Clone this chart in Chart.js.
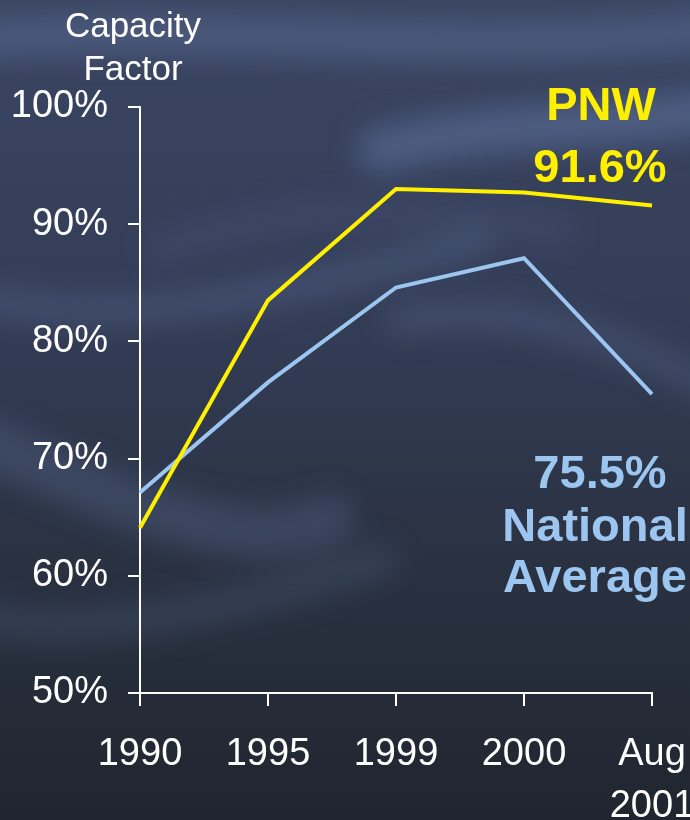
<!DOCTYPE html>
<html>
<head>
<meta charset="utf-8">
<script src="https://cdn.jsdelivr.net/npm/chart.js@4/dist/chart.umd.min.js"></script>
<style>
  html, body { margin: 0; padding: 0; background: #2c3446; }
  canvas { display: block; }
</style>
</head>
<body>
<canvas id="cf" width="690" height="820"></canvas>
<script>
// data
const years = ["1990", "1995", "1999", "2000", ["Aug", "2001"]];
const pnw = [64.1, 83.5, 93.0, 92.7, 91.6];
const national = [67.1, 76.5, 84.6, 87.1, 75.5];
const yTicks = [50, 60, 70, 80, 90, 100];

const FONT = '"Liberation Sans", Arial, sans-serif';
const YELLOW = '#fff000';
const LIGHTBLUE = '#9cc6f0';

// dark cloudy slide background
const backdrop = {
  id: 'backdrop',
  beforeDraw(chart) {
    const { ctx, width, height } = chart;
    ctx.save();
    const g = ctx.createLinearGradient(0, 0, 0, height);
    g.addColorStop(0, '#3a4562');
    g.addColorStop(0.35, '#343e58');
    g.addColorStop(0.65, '#2b3344');
    g.addColorStop(1, '#20262f');
    ctx.fillStyle = g;
    ctx.fillRect(0, 0, width, height);

    // soft wisps
    ctx.filter = 'blur(14px)';
    ctx.lineCap = 'round';
    const wisps = [
      { c: 'rgba(110,130,175,0.35)', w: 40, p: [[-20, 40], [200, 20], [450, 60], [720, 30]] },
      { c: 'rgba(110,135,185,0.40)', w: 45, p: [[380, 150], [500, 120], [600, 130], [720, 110]] },
      { c: 'rgba(100,120,165,0.30)', w: 30, p: [[-20, 300], [150, 330], [300, 290], [480, 240]] },
      { c: 'rgba(95,115,160,0.30)', w: 50, p: [[-20, 440], [120, 500], [240, 560], [330, 520]] },
      { c: 'rgba(100,120,165,0.28)', w: 30, p: [[400, 320], [520, 300], [620, 340], [720, 390]] },
      { c: 'rgba(90,110,150,0.25)', w: 35, p: [[-20, 620], [120, 640], [260, 600], [380, 560]] },
      { c: 'rgba(85,100,140,0.22)', w: 30, p: [[160, 250], [300, 200], [420, 210], [560, 230]] }
    ];
    wisps.forEach(s => {
      ctx.strokeStyle = s.c;
      ctx.lineWidth = s.w;
      ctx.beginPath();
      ctx.moveTo(s.p[0][0], s.p[0][1]);
      ctx.bezierCurveTo(s.p[1][0], s.p[1][1], s.p[2][0], s.p[2][1], s.p[3][0], s.p[3][1]);
      ctx.stroke();
    });
    ctx.restore();
  }
};

// axis caption and end-of-line callouts
const callouts = {
  id: 'callouts',
  afterDraw(chart) {
    const { ctx } = chart;
    ctx.save();
    ctx.textAlign = 'center';
    ctx.textBaseline = 'alphabetic';

    ctx.fillStyle = '#ffffff';
    ctx.font = '35px ' + FONT;
    ctx.fillText('Capacity', 133, 37);
    ctx.fillText('Factor', 133, 80);

    ctx.font = 'bold 47px ' + FONT;
    ctx.fillStyle = YELLOW;
    ctx.fillText('PNW', 601, 120);
    ctx.fillText('91.6%', 600, 182);

    ctx.fillStyle = LIGHTBLUE;
    ctx.fillText('75.5%', 600, 488);
    ctx.fillText('National', 595, 541);
    ctx.fillText('Average', 595, 592);
    ctx.restore();
  }
};

new Chart(document.getElementById('cf'), {
  type: 'line',
  data: {
    labels: years,
    datasets: [
      { label: 'PNW', data: pnw, borderColor: YELLOW, borderWidth: 4, pointRadius: 0, tension: 0 },
      { label: 'National Average', data: national, borderColor: LIGHTBLUE, borderWidth: 4, pointRadius: 0, tension: 0 }
    ]
  },
  options: {
    responsive: false,
    animation: false,
    layout: { padding: { top: 107, right: 38, left: 0, bottom: 0 } },
    plugins: { legend: { display: false }, tooltip: { enabled: false } },
    scales: {
      x: {
        offset: false,
        grid: { drawOnChartArea: false, color: '#ffffff', lineWidth: 2, tickLength: 13 },
        border: { color: '#ffffff', width: 2 },
        ticks: {
          color: '#ffffff', font: { family: FONT, size: 38, lineHeight: 1.37 },
          padding: 22, maxRotation: 0, autoSkip: false
        },
        afterFit(scale) { scale.height = 127; scale.paddingRight = 0; scale.paddingLeft = 0; }
      },
      y: {
        min: 50, max: 100,
        afterBuildTicks(scale) { scale.ticks = yTicks.map(v => ({ value: v })); },
        grid: { drawOnChartArea: false, color: '#ffffff', lineWidth: 2, tickLength: 12 },
        border: { color: '#ffffff', width: 2 },
        ticks: {
          color: '#ffffff', font: { family: FONT, size: 38 }, padding: 20,
          callback: v => v + '%'
        },
        afterFit(scale) { scale.width = 140; scale.paddingTop = 0; scale.paddingBottom = 0; }
      }
    }
  },
  plugins: [backdrop, callouts]
});
</script>
</body>
</html>
